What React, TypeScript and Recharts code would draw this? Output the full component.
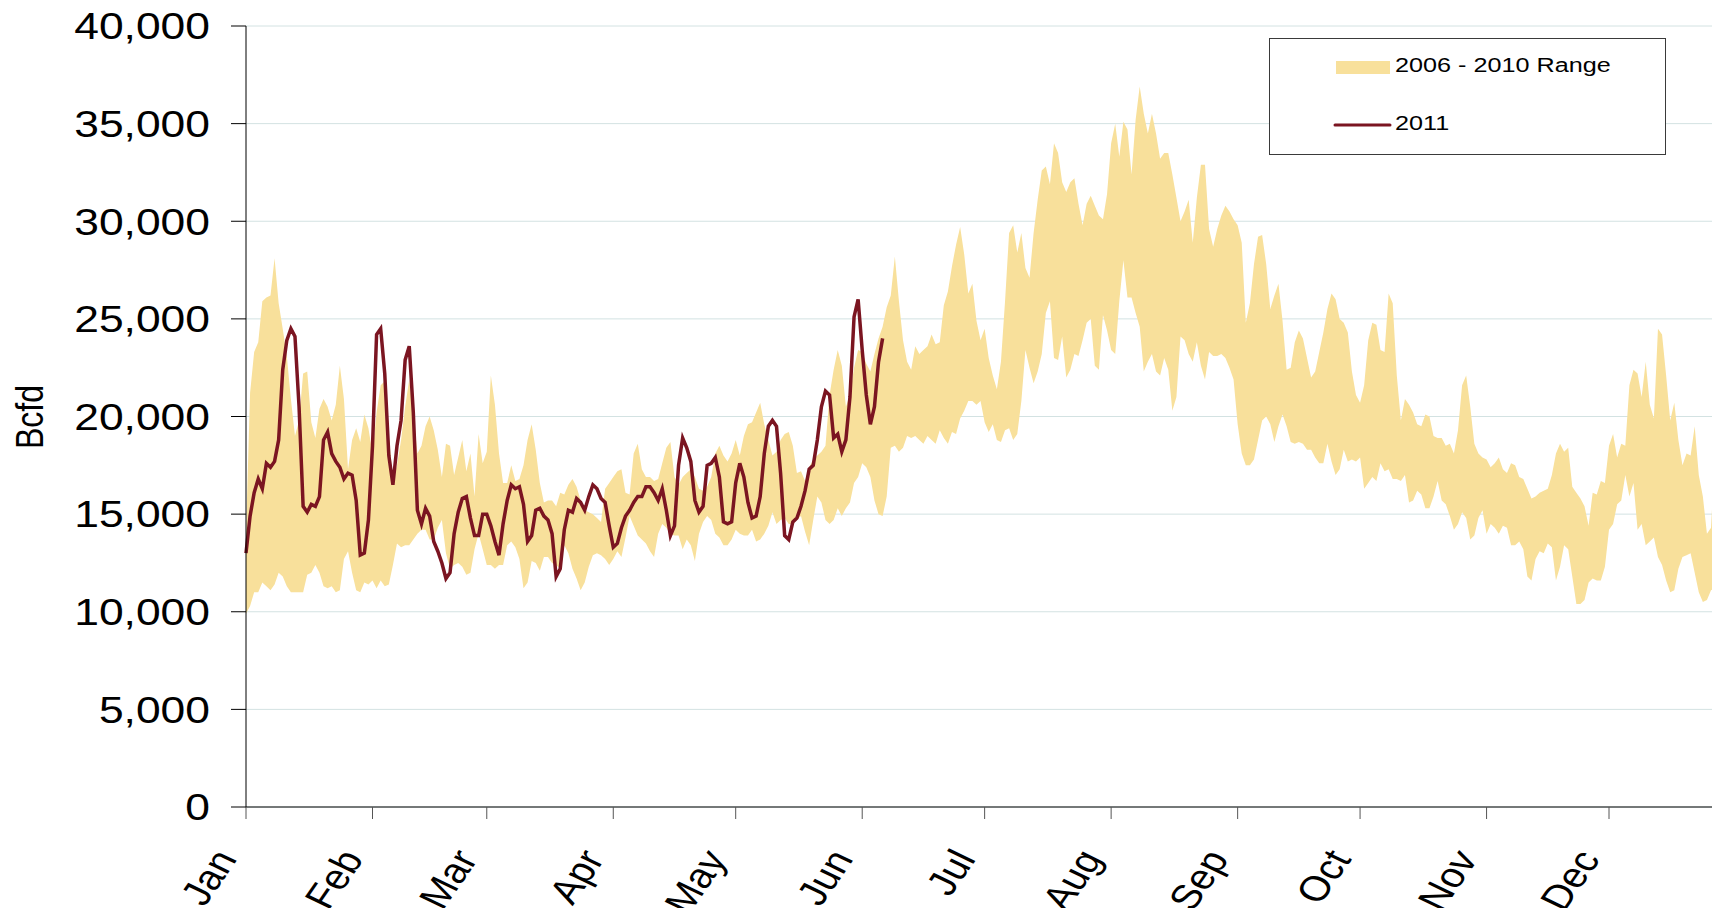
import { Area, CartesianGrid, ComposedChart, Line, XAxis, YAxis } from "recharts"

// day 0 = Jan 1
const monthTicks = [0, 31, 59, 90, 120, 151, 181, 212, 243, 273, 304, 334]
const monthLabels = ["Jan", "Feb", "Mar", "Apr", "May", "Jun", "Jul", "Aug", "Sep", "Oct", "Nov", "Dec"]
const yTicks = [0, 5000, 10000, 15000, 20000, 25000, 30000, 35000, 40000]

// 2006 - 2010 daily range (min / max)
const rangeLow = [
  9900, 10300, 11000, 11000, 11500, 11300, 11100, 11400, 12000, 11800,
  11300, 11000, 11000, 11000, 11000, 11900, 12000, 12400, 12000, 11300,
  11200, 11300, 11000, 11100, 12700, 13100, 12000, 11100, 11000, 11500,
  11400, 11600, 11200, 11600, 11300, 11400, 12400, 13500, 13300, 13400,
  13400, 13700, 14000, 14200, 14200, 13700,
  13700, 14300, 14700, 13000, 12200, 12400, 12500, 12300, 11900, 12000,
  13200, 14000, 13200, 12400, 12400, 12200, 12400, 12400, 13400, 13600,
  13300, 12700, 11200, 11500, 12600, 12500, 12100, 12800, 12800, 12500,
  12400, 12200, 13400, 13000, 12200, 11700, 11100, 11500, 12300, 12900,
  13000, 12900, 12700, 12400, 12700,
  13100, 12800, 13800, 14900, 14400, 13900, 13700, 13500, 13100, 12800,
  14000, 14500, 14300, 14000, 13900, 13900, 13200, 13700, 13400, 12600,
  14000, 14600, 14900, 14700, 14000, 13800, 13400, 13400, 13700, 14200,
  14000, 13900, 13900, 14200, 13600, 13700, 14000, 14400, 15100, 14500,
  14700, 14800, 14500, 14500, 14700,
  14900, 14100, 13400, 14700, 15900, 15600, 14700, 14500, 14700, 15300,
  14900, 15300, 15600, 16600, 16900, 17600, 17400, 16900, 15700, 15000,
  14900, 15900, 18400, 18500, 18200, 18400, 19000, 18900, 19000, 18800,
  18600, 19000, 18800, 18600, 19300, 18900, 18600, 19200, 19100, 19900,
  20300, 20800, 20800, 20600, 20800, 19700,
  19200, 19600, 18800, 18700, 19300, 19400, 18800, 19100, 20800, 23400,
  22500, 21700, 22300, 23200, 25300, 25900, 23000, 22900, 24100, 22000,
  22400, 23200, 23100, 23900, 24800, 25000, 22600, 22400, 25200, 24400,
  23400, 23200, 25900, 28000, 26100, 26100, 25300, 24600, 22300, 22800,
  23200, 22300, 22100, 23000, 22400,
  20300, 21000, 24100, 23900, 23200, 22800, 23800, 22600, 21900, 23300,
  23100, 23100, 23200, 23000, 22500, 21900, 19600, 18100, 17500, 17500,
  17800, 18800, 19800, 20000, 19600, 18700, 19500, 20100, 19500, 18700,
  18600, 18700, 18600, 18300, 18300, 17900, 17600, 17600, 18600, 17700,
  17000, 17300, 18300, 17700, 17800, 17700, 17900,
  16300, 16600, 16900, 16700, 17600, 17200, 17300, 16800, 16800, 16700,
  17000, 15600, 15700, 16200, 16000, 15300, 15300, 15900, 16700, 15700,
  15500, 14900, 14200, 14500, 15100, 14800, 13700, 13900, 14800, 15200,
  14000, 14500, 14300, 14000, 14400, 14300, 13400, 13400, 13600, 13200,
  11800, 11600, 12700, 13100,
  13000, 13500, 13300, 11600, 12300, 13400, 13200, 11800, 10400, 10400,
  10600, 11500, 11700, 11600, 11600, 12300, 14200, 14500, 15500, 15700,
  17000, 15900, 16600, 14200, 14500, 13400, 13600, 13800, 12800, 12400,
  11600, 11000, 11100, 12200, 12800, 12900, 13000, 12000, 11000, 10500,
  10600, 11100, 11200, 11200,
]

const rangeHigh = [
  14000, 21200, 23300, 23800, 25900, 26100, 26200, 28100, 25800, 24500,
  23100, 20900, 19000, 19800, 22200, 22300, 19700, 18900, 20400, 20900,
  20500, 19800, 20600, 22600, 20900, 17300, 18800, 19400, 18700, 20100,
  19400, 18100, 20200, 21600, 21800, 19000, 16800, 17500, 18800, 20500,
  21900, 20200, 18100, 18500, 19500, 20000,
  19300, 18300, 16900, 18600, 18500, 17000, 17900, 18800, 17200, 18100,
  15900, 19100, 17600, 18200, 22100, 20600, 18100, 16600, 16600, 17500,
  16700, 16800, 17500, 18800, 19600, 18300, 16600, 15600, 15700, 15700,
  15400, 16100, 16000, 16500, 16800, 16400, 15700, 15200, 15100, 15000,
  14800, 14600, 16300, 16600, 16900,
  17200, 17300, 16100, 16000, 18100, 18600, 17300, 16900, 16900, 16700,
  16800, 17600, 18400, 18700, 16900, 16500, 16900, 17100, 17300, 16900,
  16300, 16200, 16400, 16900, 18100, 18500, 18000, 17700, 18100, 18800,
  18000, 19000, 19600, 19700, 20200, 20700, 19600, 18800, 18000, 18200,
  18800, 19100, 19200, 18500, 17100,
  17200, 16700, 17400, 17800, 18000, 18200, 18500, 21100, 22400, 23400,
  22600, 20500, 21100, 22500, 23400, 23300, 22700, 22300, 23200, 24000,
  24600, 25600, 26200, 28200, 25900, 23900, 22800, 22400, 23600, 23200,
  23400, 23600, 24200, 23700, 23800, 25700, 26400, 27700, 28800, 29700,
  28300, 26300, 26800, 24900, 23900, 24500,
  23000, 22100, 21400, 22800, 25900, 29400, 29800, 28400, 29400, 27600,
  27100, 29400, 31100, 32600, 32800, 31900, 34000, 33500, 32000, 31500,
  32000, 32200, 30900, 29800, 30900, 31300, 30800, 30300, 30100, 31400,
  34000, 35000, 33300, 35100, 34700, 32400, 35200, 36900, 35500, 34500,
  35500, 34500, 33200, 33500, 33500,
  32400, 31200, 30000, 30500, 31100, 28900, 31200, 32900, 32900, 29600,
  28700, 29600, 30300, 30800, 30500, 30100, 29800, 28900, 24800, 25800,
  27800, 29200, 29300, 27800, 25500, 26200, 26800, 24900, 22400, 22500,
  23800, 24400, 24000, 23000, 22000, 22300, 23300, 24300, 25500, 26300,
  26000, 25000, 24800, 24300, 22300, 21100, 20700,
  21600, 23900, 24800, 24700, 23400, 23300, 26300, 25800, 22100, 19800,
  20900, 20600, 20200, 19600, 19500, 20100, 20000, 19000, 18900, 18900,
  18500, 18600, 18100, 19300, 21600, 22100, 20500, 18600, 18100, 17900,
  17800, 17400, 17600, 17900, 17300, 17100, 17600, 17500, 16900, 16800,
  16300, 15800, 15900, 16100,
  16200, 16300, 17000, 18100, 18600, 18200, 18400, 16400, 16100, 15800,
  15400, 14400, 16100, 16000, 16700, 16600, 18500, 19100, 17900, 18600,
  18500, 21600, 22400, 22200, 21000, 22800, 20600, 19900, 24500, 24200,
  22100, 19800, 20700, 18800, 17500, 18100, 18000, 19500, 17000, 15900,
  14000, 14300, 18300, 20600,
]

// 2011, Jan 1 to early June
const demand2011 = [
  13000, 14900, 16100, 16800, 16300, 17600, 17400, 17700, 18800, 22400,
  23900, 24500, 24100, 20500, 15400, 15100, 15500, 15400, 15900, 18800,
  19200, 18100, 17700, 17400, 16800, 17100, 17000, 15700, 12900, 13000,
  14700, 18500, 24200, 24500, 22200, 18000, 16500, 18500, 19800, 22900,
  23600, 20200, 15200, 14500, 15300, 14900,
  13600, 13100, 12500, 11700, 12000, 14000, 15100, 15800, 15900, 14800,
  13900, 13900, 15000, 15000, 14400, 13600, 12900, 14500, 15700, 16500,
  16300, 16400, 15500, 13600, 13900, 15200, 15300, 14900, 14700, 14000,
  11800, 12200, 14200, 15200, 15100, 15800, 15600, 15200, 15900, 16500,
  16300, 15800, 15600, 14400, 13300,
  13500, 14300, 14900, 15200, 15600, 15900, 15900, 16400, 16400, 16100,
  15700, 16300, 15200, 13900, 14400, 17500, 18900, 18400, 17700, 15700,
  15100, 15400, 17500, 17600, 17900, 16900, 14600, 14500, 14600, 16600,
  17600, 16900, 15600, 14800, 14900, 15900, 18100, 19500, 19800, 19500,
  17100, 13900, 13700, 14600, 14800,
  15400, 16200, 17300, 17500, 18800, 20500, 21300, 21100, 18900, 19100,
  18200, 18800, 21000, 25100, 26000, 23400, 21100, 19600, 20500, 22800,
  24000,
]

const data = rangeLow.map((low, day) => ({
  day,
  range: [low, rangeHigh[day]],
  y2011: day < demand2011.length ? demand2011[day] : null,
}))

const FONT = "'Liberation Sans', Arial, Helvetica, sans-serif"
const STRETCH = 1.2
const BAND = "#F8E09B"
const MAROON = "#7B1521"

function YTick({ x, y, payload }: any) {
  return (
    <g transform={`translate(${x},${y})`}>
      <text transform={`scale(${STRETCH},1)`} textAnchor="end" dy="0.36em" fontSize={37} fontFamily={FONT} fill="#000">
        {payload.value.toLocaleString("en-US")}
      </text>
    </g>
  )
}

function MonthTick({ x, y, payload }: any) {
  const label = monthLabels[monthTicks.indexOf(payload.value)]
  return (
    <g transform={`translate(${x - 8},${y + 38}) scale(${STRETCH},1) rotate(-60)`}>
      <text textAnchor="end" fontSize={35} fontFamily={FONT} fill="#000">
        {label}
      </text>
    </g>
  )
}

function ChartLegend() {
  return (
    <div
      style={{
        position: "absolute",
        left: 1261,
        top: 30,
        width: 397,
        height: 117,
        boxSizing: "border-box",
        border: "1px solid #3a3a3a",
        background: "#fff",
      }}
    >
      <svg width={395} height={115}>
        <rect x={66} y={22} width={54} height={13} fill={BAND} />
        <text transform="translate(125,33) scale(1.2,1)" fontSize={21} fontFamily={FONT} fill="#000">
          2006 - 2010 Range
        </text>
        <line x1={65} x2={120} y1={86} y2={86} stroke={MAROON} strokeWidth={3} strokeLinecap="round" />
        <text transform="translate(125,91) scale(1.2,1)" fontSize={21} fontFamily={FONT} fill="#000">
          2011
        </text>
      </svg>
    </div>
  )
}

export default function App() {
  return (
    <div style={{ position: "relative", width: 1712, height: 900 }}>
      <style>{`.recharts-surface { overflow: visible; }`}</style>
      <ComposedChart width={1712} height={900} data={data} margin={{ top: 18, right: 0, bottom: 0, left: 0 }}>
        <CartesianGrid horizontal vertical={false} stroke="#d3e2e2" />
        <XAxis
          type="number"
          dataKey="day"
          domain={[0, 361.2]}
          ticks={monthTicks}
          interval={0}
          height={101}
          tickSize={12}
          tick={<MonthTick />}
          axisLine={{ stroke: "#000" }}
          tickLine={{ stroke: "#555" }}
        />
        <YAxis
          type="number"
          domain={[0, 40000]}
          ticks={yTicks}
          interval={0}
          width={238}
          tickSize={15}
          tickMargin={21}
          tick={<YTick />}
          axisLine={{ stroke: "#000" }}
          tickLine={{ stroke: "#000" }}
          label={{
            content: () => (
              <text
                transform="translate(21,409) scale(1.2,1) rotate(-90)"
                textAnchor="middle"
                dominantBaseline="central"
                fontSize={32}
                fontFamily={FONT}
                fill="#000"
              >
                Bcfd
              </text>
            ),
          }}
        />
        <Area
          type="linear"
          dataKey="range"
          fill={BAND}
          fillOpacity={1}
          stroke="none"
          dot={false}
          activeDot={false}
          isAnimationActive={false}
        />
        <Line
          type="linear"
          dataKey="y2011"
          stroke={MAROON}
          strokeWidth={3.5}
          dot={false}
          activeDot={false}
          isAnimationActive={false}
        />
      </ComposedChart>
      <ChartLegend />
    </div>
  )
}
